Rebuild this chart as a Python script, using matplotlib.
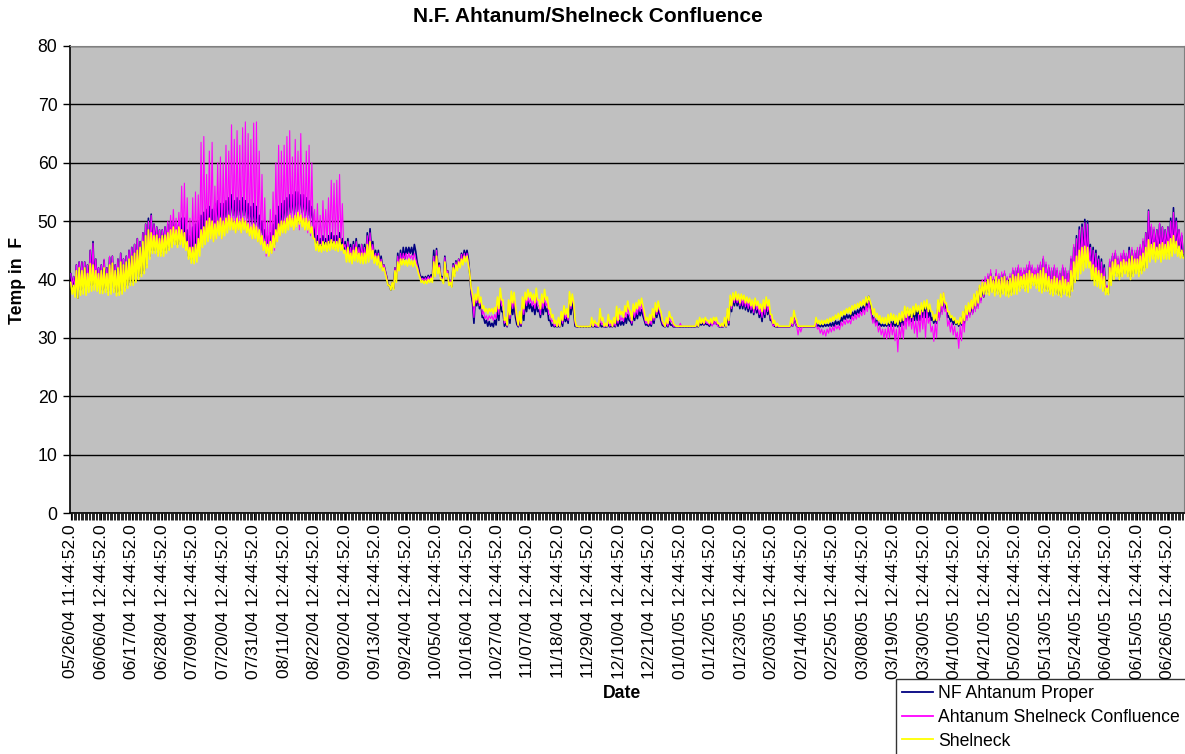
import matplotlib
matplotlib.use('Agg')  # headless
import matplotlib.pyplot as plt
from matplotlib.lines import Line2D
import numpy as np

plt.rcParams['font.family'] = ['Liberation Sans', 'DejaVu Sans']

# --- data: daily low / daily high (deg F), one row per 11-day label step ---
nf_lo = [
    38.5, 38.0, 36.8, 38.2, 38.5, 38.2, 38.8, 39.0, 39.2, 39.0, 38.5,
    38.2, 38.5, 38.0, 38.2, 38.5, 37.8, 38.0, 38.2, 38.6, 39.0, 39.5,
    39.5, 40.0, 40.5, 41.0, 41.5, 42.5, 44.0, 45.0, 45.0, 44.5, 44.5,
    45.0, 45.0, 45.5, 46.0, 46.5, 46.0, 46.5, 46.0, 45.5, 44.0, 43.5,
    44.0, 44.5, 45.5, 47.5, 48.0, 49.0, 49.5, 49.0, 49.5, 50.0, 49.5,
    50.0, 50.5, 51.0, 51.0, 50.5, 51.0, 50.5, 51.0, 50.5, 50.0, 49.5,
    49.5, 49.0, 48.0, 47.0, 45.5, 44.5, 45.0, 46.0, 47.5, 49.0, 49.5,
    50.5, 51.0, 51.5, 51.0, 51.5, 52.0, 51.5, 51.0, 51.0, 50.5, 49.5,
    46.0, 45.5, 45.5, 46.0, 45.5, 46.0, 46.0, 45.5, 45.5, 46.0, 45.0,
    44.0, 44.0, 43.5, 44.0, 44.0, 43.5, 43.5, 43.5, 44.5, 45.0, 43.5,
    43.0, 42.5, 42.0, 41.5, 39.0, 38.2, 38.5, 40.0, 42.0, 43.0, 43.5,
    44.5, 44.5, 44.2, 44.8, 42.0, 40.3, 40.0, 40.0, 40.2, 40.3, 41.5,
    42.0, 40.5, 39.5, 41.5, 39.3, 38.8, 41.0, 42.0, 42.5, 43.3, 44.0,
    43.5, 37.5, 32.5, 35.5, 35.0, 33.5, 32.5, 32.0, 32.0, 31.9, 32.2,
    33.0, 34.5, 32.0, 31.9, 32.5, 34.0, 33.5, 31.9, 32.0, 33.0, 34.5,
    35.0, 34.5, 34.0, 34.5, 33.5, 34.0, 34.5, 33.0, 32.0, 31.9, 31.9,
    31.9, 32.0, 32.8, 32.5, 34.0, 34.5, 31.9, 31.9, 31.9, 31.9, 31.9,
    31.9, 31.9, 31.9, 31.9, 31.9, 31.9, 31.9, 31.9, 31.9, 31.9, 32.0,
    32.2, 32.2, 32.5, 33.0, 32.2, 33.0, 33.3, 33.8, 33.8, 32.2, 32.0,
    32.0, 32.5, 33.5, 34.0, 32.2, 31.9, 31.9, 32.2, 31.9, 31.9, 31.9,
    31.9, 31.9, 31.9, 31.9, 31.9, 31.9, 31.9, 32.2, 32.2, 32.3, 32.0,
    32.2, 32.5, 32.2, 31.9, 31.9, 31.9, 32.2, 34.5, 35.5, 35.5, 35.0,
    35.0, 34.8, 34.5, 34.3, 34.0, 34.3, 33.5, 32.8, 33.5, 34.0, 33.0,
    32.2, 31.9, 31.9, 31.9, 31.9, 31.9, 31.9, 32.0, 32.5, 31.9, 31.9,
    31.9, 31.9, 31.9, 31.9, 31.9, 32.0, 31.9, 31.9, 32.0, 32.0, 32.0,
    32.0, 32.3, 32.2, 32.9, 33.2, 33.4, 33.3, 33.8, 34.0, 34.2, 34.5,
    34.8, 35.2, 35.5, 33.0, 32.5, 32.2, 32.0, 32.0, 32.0, 32.0, 32.0,
    32.0, 31.9, 32.0, 32.2, 32.8, 33.0, 32.8, 33.0, 33.0, 33.0, 33.5,
    33.5, 33.5, 33.0, 32.5, 32.5, 33.5, 34.5, 35.0, 33.5, 32.8, 32.3,
    32.3, 32.0, 32.2, 32.5, 33.5, 34.0, 34.3, 35.0, 35.5, 36.5, 37.0,
    37.8, 37.8, 38.3, 37.8, 38.0, 37.5, 37.8, 37.8, 37.5, 37.8, 38.3,
    38.0, 38.5, 39.0, 38.5, 38.3, 39.0, 39.5, 39.0, 38.5, 38.2, 38.5,
    38.3, 37.8, 37.5, 37.8, 37.5, 37.3, 37.8, 37.5, 37.3, 38.3, 39.8,
    41.5, 42.5, 43.0, 43.5, 43.5, 41.5, 40.5, 40.0, 39.5, 39.0, 38.0,
    37.6, 39.5, 40.5, 41.0, 40.5, 41.0, 41.5, 41.0, 40.5, 41.0, 41.5,
    41.0, 41.5, 42.0, 43.0, 44.0, 44.5, 44.0, 44.5, 44.0, 44.5, 44.5,
    44.5, 45.0, 45.5, 45.0, 44.5, 44.0,
]
nf_hi = [
    41.0, 40.5, 42.5, 43.0, 43.0, 43.0, 42.5, 45.0, 46.5, 43.5, 42.0,
    42.5, 43.3, 42.0, 43.8, 44.0, 42.5, 43.5, 44.5, 43.5, 44.0, 45.0,
    45.5, 46.0, 47.0, 46.5, 48.0, 49.5, 50.5, 51.2, 49.5, 49.0, 48.5,
    48.5, 49.0, 49.5, 50.0, 50.0, 49.5, 50.0, 50.5, 50.5, 48.5, 47.5,
    49.0, 49.5, 50.0, 51.0, 51.5, 52.0, 52.5, 52.0, 53.0, 53.5, 53.0,
    53.0, 53.5, 54.0, 54.5, 53.5, 54.0, 53.5, 54.0, 53.5, 53.0, 52.5,
    53.0, 52.5, 51.0, 50.0, 48.5, 47.5, 48.0, 49.5, 51.0, 52.5, 53.0,
    53.5, 54.0, 54.5, 54.5, 55.0, 55.0, 54.5, 54.5, 54.0, 53.5, 52.5,
    48.0, 47.5, 47.0, 47.5, 47.0, 47.5, 48.0, 47.5, 47.5, 48.0, 47.0,
    46.5, 47.0, 46.0, 46.5, 47.0, 46.0, 46.0, 46.0, 48.0, 48.7, 46.5,
    45.0, 45.0, 44.0, 42.5, 40.5, 39.0, 39.5, 42.0, 44.5, 45.0, 45.5,
    45.5, 45.5, 45.5, 46.0, 43.0, 40.8, 40.5, 40.5, 40.7, 40.8, 45.0,
    45.3, 42.8, 40.5, 44.0, 41.5, 39.8, 42.7, 43.2, 43.5, 44.5, 45.0,
    45.0, 41.0, 36.0, 36.8, 37.0, 36.0, 33.5, 33.0, 32.8, 32.5, 33.0,
    35.0, 36.5, 34.5, 32.5, 34.5, 36.0, 35.9, 32.3, 32.8, 35.0, 36.2,
    36.3, 35.8, 35.5, 36.0, 34.8, 35.5, 36.0, 35.0, 33.0, 32.3, 32.0,
    32.0, 33.0, 34.0, 33.5, 36.5, 36.0, 32.0, 31.9, 31.9, 31.9, 31.9,
    31.9, 32.0, 32.0, 31.9, 32.5, 32.0, 31.9, 32.3, 32.0, 32.2, 33.0,
    33.0, 32.8, 33.5, 34.0, 32.8, 34.0, 34.3, 34.8, 34.8, 33.0, 32.3,
    32.5, 33.5, 34.8, 34.8, 33.0, 32.0, 32.2, 32.8, 32.2, 31.9, 31.9,
    31.9, 31.9, 31.9, 31.9, 31.9, 31.9, 32.0, 32.5, 32.5, 32.5, 32.3,
    32.5, 32.8, 32.5, 31.9, 31.9, 32.5, 34.0, 36.5, 36.8, 37.0, 36.5,
    36.5, 36.5, 36.0, 36.0, 35.5, 36.0, 35.0, 34.5, 35.5, 36.0, 35.0,
    33.0, 32.0, 31.9, 31.9, 31.9, 31.9, 31.9, 32.3, 33.5, 32.0, 31.9,
    31.9, 31.9, 31.9, 31.9, 31.9, 32.5, 32.2, 32.2, 32.3, 32.3, 32.5,
    32.6, 32.9, 32.8, 33.5, 33.8, 34.0, 33.9, 34.4, 34.6, 34.8, 35.2,
    35.5, 36.5, 37.1, 34.5, 33.5, 33.0, 32.5, 32.3, 32.3, 32.5, 32.8,
    32.8, 32.5, 33.0, 33.5, 34.5, 34.8, 34.5, 34.8, 35.0, 34.8, 35.3,
    35.5, 35.5, 34.8, 33.5, 33.3, 35.5, 36.5, 37.0, 35.5, 33.8, 33.3,
    33.0, 32.8, 33.0, 34.0, 35.0, 35.0, 35.5, 36.5, 37.5, 38.5, 39.0,
    40.0, 40.5, 41.0, 40.0, 41.0, 40.5, 40.8, 41.0, 40.2, 40.5, 41.5,
    41.5, 42.0, 41.5, 41.5, 42.0, 42.5, 42.0, 41.5, 42.0, 42.5, 43.5,
    42.5, 42.0, 41.5, 42.0, 41.5, 41.0, 42.0, 41.5, 41.0, 43.5, 45.5,
    47.5, 49.0, 49.5, 50.3, 50.0, 46.0, 45.5, 45.0, 44.0, 43.5, 42.5,
    38.8, 43.0, 44.0, 44.5, 43.5, 44.0, 44.5, 44.0, 45.5, 45.0, 44.5,
    45.0, 45.5, 46.5, 48.0, 51.9, 49.0, 48.5, 48.5, 49.5, 49.0, 48.5,
    49.0, 50.5, 52.3, 50.5, 48.5, 47.5,
]
conf_lo = [
    39.0, 38.5, 38.5, 38.8, 39.0, 38.8, 39.2, 39.5, 39.8, 39.5, 39.0,
    38.6, 38.8, 38.3, 38.5, 38.8, 38.2, 38.3, 38.5, 39.0, 39.5, 40.0,
    40.0, 40.5, 41.0, 41.5, 42.0, 43.0, 44.5, 45.5, 45.5, 45.0, 45.0,
    45.0, 45.5, 46.0, 46.5, 47.0, 46.5, 47.0, 46.5, 46.0, 44.5, 44.0,
    44.0, 44.5, 45.0, 46.0, 46.5, 47.0, 47.0, 46.5, 47.0, 47.5, 47.0,
    48.0, 48.5, 49.0, 48.5, 48.0, 48.5, 48.0, 48.5, 48.0, 47.5, 47.0,
    47.0, 46.5, 46.0, 45.0, 44.0, 44.0, 44.5, 45.0, 46.5, 47.5, 48.0,
    48.5, 49.0, 49.0, 48.5, 49.0, 48.5, 49.0, 48.5, 48.0, 47.5, 47.0,
    46.5, 46.0, 46.0, 46.5, 46.0, 46.5, 46.5, 46.0, 46.0, 46.5, 45.5,
    44.0, 44.0, 43.5, 44.0, 44.0, 43.5, 43.5, 43.5, 44.0, 44.5, 43.5,
    43.0, 42.5, 42.0, 41.5, 39.0, 38.3, 38.5, 40.0, 42.0, 43.0, 43.5,
    43.5, 43.6, 43.3, 43.5, 41.5, 40.0, 39.8, 39.8, 40.0, 40.0, 41.0,
    41.5, 40.3, 39.5, 41.0, 39.2, 38.8, 41.0, 42.0, 42.5, 43.0, 43.5,
    43.0, 38.0, 33.5, 36.0, 35.5, 34.0, 33.3, 33.0, 33.3, 33.0, 33.3,
    34.0, 35.5, 32.5, 32.0, 33.3, 35.0, 34.5, 32.0, 32.2, 34.0, 35.5,
    36.0, 35.5, 35.0, 35.5, 34.0, 35.0, 35.5, 34.0, 32.8, 32.0, 31.9,
    31.9, 32.5, 33.3, 33.0, 35.0, 35.5, 31.9, 31.9, 31.9, 31.9, 31.9,
    31.9, 31.9, 32.0, 31.9, 32.3, 31.9, 31.9, 32.0, 31.9, 32.0, 32.5,
    33.0, 32.8, 33.5, 34.0, 32.5, 33.5, 34.0, 34.5, 34.5, 32.5, 32.2,
    32.3, 33.0, 34.0, 34.5, 32.5, 31.9, 32.0, 32.8, 32.0, 31.9, 31.9,
    31.9, 31.9, 31.9, 31.9, 31.9, 31.9, 32.0, 32.5, 32.3, 32.5, 32.2,
    32.0, 32.3, 32.0, 31.9, 31.9, 31.9, 32.5, 35.0, 36.0, 36.0, 35.5,
    35.5, 35.3, 35.0, 34.8, 34.3, 34.8, 34.0, 33.5, 34.0, 34.5, 33.5,
    32.0, 31.9, 31.9, 31.9, 31.9, 31.9, 31.9, 32.0, 32.5, 30.5, 31.0,
    31.9, 31.9, 31.9, 31.9, 31.9, 31.5, 30.8, 30.5, 30.3, 30.8, 31.0,
    31.2, 31.5, 31.4, 32.0, 32.3, 32.5, 32.4, 33.0, 33.2, 33.5, 33.8,
    34.0, 34.5, 35.0, 32.5, 32.0, 31.0, 30.5, 30.0, 29.8, 30.0, 30.5,
    29.5, 27.6, 30.0, 29.8, 31.5, 32.0, 31.5, 30.8, 30.0, 31.0, 31.5,
    30.0, 32.5, 31.0, 29.4, 30.0, 33.0, 34.0, 34.5, 32.0, 31.0, 30.5,
    30.0, 28.2, 29.5, 31.0, 33.0, 33.5, 34.0, 34.5, 35.0, 36.0, 37.0,
    38.0, 38.0, 38.5, 38.0, 38.3, 37.8, 38.0, 38.0, 37.8, 38.0, 38.5,
    38.5, 39.0, 39.5, 39.0, 38.8, 39.5, 40.0, 39.5, 39.0, 38.7, 39.0,
    38.5, 38.0, 37.8, 38.0, 37.8, 37.5, 38.0, 37.8, 37.5, 38.5, 40.0,
    41.0, 42.0, 42.5, 43.0, 43.0, 41.0, 40.0, 39.5, 39.0, 38.5, 37.8,
    37.8, 40.0, 41.0, 41.5, 41.0, 41.5, 42.0, 41.5, 41.0, 41.5, 42.0,
    41.5, 42.0, 42.5, 43.5, 44.5, 45.0, 44.5, 45.0, 44.5, 45.0, 45.0,
    45.0, 45.5, 46.0, 45.5, 45.0, 44.5,
]
conf_hi = [
    41.0, 40.5, 42.5, 43.0, 43.0, 43.0, 42.5, 45.0, 46.2, 43.5, 42.0,
    42.5, 43.5, 42.0, 44.0, 44.0, 42.5, 43.5, 44.5, 43.5, 44.0, 45.0,
    45.5, 46.0, 47.0, 46.5, 48.0, 49.5, 50.0, 51.0, 49.5, 49.0, 48.5,
    48.5, 49.0, 50.0, 51.0, 52.0, 50.5, 51.5, 56.0, 56.5, 54.0, 50.5,
    54.0, 55.0, 54.5, 63.5, 64.5, 58.0, 62.0, 63.5, 56.0, 60.0, 61.0,
    60.0, 63.0, 62.0, 66.5, 64.0, 65.5, 63.0, 66.0, 67.0, 65.0, 64.0,
    66.8, 67.0, 62.0, 58.0, 54.0, 50.0, 52.0, 55.0, 60.0, 63.0, 62.0,
    63.0, 64.5, 65.5, 61.0, 64.0, 62.0, 65.0, 60.0, 62.0, 63.0, 60.0,
    52.0, 53.0, 51.0, 53.5, 52.0, 54.0, 57.0, 56.5, 57.0, 58.0, 53.0,
    46.0, 46.5, 45.5, 46.0, 46.5, 45.5, 46.0, 45.5, 47.5, 48.0, 46.0,
    44.5, 44.5, 43.5, 42.5, 40.5, 39.0, 39.5, 42.0, 44.0, 44.5, 44.5,
    44.5, 44.5, 44.2, 44.5, 42.5, 40.5, 40.2, 40.3, 40.5, 40.5, 44.0,
    45.0, 42.5, 40.3, 43.8, 41.5, 39.8, 42.5, 43.0, 43.5, 44.3, 44.5,
    44.5, 41.0, 36.5, 37.0, 37.5, 36.5, 34.5, 33.8, 33.8, 33.8, 34.0,
    36.0, 37.5, 35.5, 33.0, 35.5, 37.0, 36.8, 33.0, 33.5, 36.0, 37.0,
    37.0, 36.7, 36.3, 37.0, 35.5, 36.5, 37.0, 36.0, 34.0, 33.0, 32.3,
    32.5, 33.8, 34.8, 34.0, 37.2, 36.8, 32.5, 32.0, 32.0, 32.0, 32.0,
    32.0, 32.5, 32.5, 32.0, 34.0, 32.5, 32.0, 33.0, 32.5, 32.8, 34.0,
    34.0, 33.5, 34.5, 35.3, 33.5, 34.8, 35.0, 35.5, 35.8, 33.5, 32.8,
    33.0, 34.0, 35.3, 35.5, 33.8, 32.2, 32.8, 33.5, 32.8, 32.0, 31.9,
    32.5, 32.0, 32.0, 32.0, 32.0, 32.0, 32.3, 33.0, 32.8, 33.0, 32.5,
    32.8, 33.0, 32.8, 32.0, 32.0, 33.0, 34.5, 36.8, 37.0, 37.3, 37.0,
    36.8, 36.8, 36.5, 36.3, 36.0, 36.3, 35.5, 35.0, 35.8, 36.3, 35.5,
    33.0, 32.3, 32.0, 31.9, 31.9, 31.9, 31.9, 32.5, 33.5, 32.0, 31.9,
    31.9, 31.9, 31.9, 31.9, 31.9, 32.5, 31.8, 31.5, 31.3, 31.5, 31.8,
    31.9, 32.2, 32.1, 32.7, 33.0, 33.2, 33.1, 33.7, 34.0, 34.2, 34.5,
    35.0, 35.5, 36.2, 33.8, 33.5, 32.8, 32.0, 31.5, 31.5, 32.0, 32.5,
    32.0, 31.5, 32.0, 32.5, 34.0, 34.2, 33.5, 33.5, 33.0, 34.0, 34.5,
    34.5, 34.8, 33.5, 32.0, 32.5, 35.5, 37.0, 37.8, 35.0, 33.0, 32.5,
    32.0, 31.0, 32.0, 33.5, 35.0, 35.5, 36.5, 37.0, 38.0, 39.0, 40.0,
    40.5, 41.0, 41.7, 40.5, 41.7, 41.0, 41.3, 41.5, 40.5, 41.0, 42.0,
    42.0, 42.5, 42.0, 42.0, 42.5, 43.1, 42.5, 42.0, 42.5, 43.0, 44.0,
    43.0, 42.5, 42.0, 42.5, 42.0, 41.5, 42.5, 42.0, 41.5, 44.0, 46.0,
    47.0, 48.5, 49.0, 49.7, 49.5, 45.5, 45.0, 44.5, 43.5, 43.0, 42.0,
    39.0, 43.5, 44.5, 45.0, 44.0, 44.5, 45.0, 44.5, 45.0, 45.5, 45.0,
    45.5, 46.0, 47.0, 48.0, 51.7, 49.5, 49.0, 48.5, 49.7, 49.0, 48.5,
    49.0, 50.0, 51.5, 50.0, 48.6, 48.0,
]
shel_lo = [
    37.5, 37.0, 36.8, 37.3, 37.5, 37.3, 37.8, 38.0, 38.2, 38.0, 37.6,
    37.6, 37.8, 37.3, 37.5, 37.8, 37.2, 37.3, 37.5, 38.0, 38.5, 39.0,
    39.0, 39.5, 40.0, 40.5, 41.0, 42.0, 43.5, 44.5, 44.5, 44.0, 44.0,
    44.0, 44.5, 45.0, 45.5, 46.0, 45.5, 46.0, 45.5, 45.0, 43.5, 42.8,
    42.7, 43.0, 44.0, 45.5, 46.0, 46.5, 47.0, 46.5, 47.0, 47.5, 47.0,
    47.5, 48.0, 48.5, 48.5, 48.0, 48.5, 48.0, 48.5, 48.0, 47.5, 47.0,
    47.0, 46.5, 46.0, 45.0, 44.5, 44.0, 44.5, 45.5, 46.5, 47.5, 48.0,
    48.0, 48.5, 49.0, 48.5, 49.0, 49.5, 49.0, 48.5, 48.5, 48.0, 47.0,
    45.0, 44.8, 44.7, 45.0, 44.8, 45.0, 45.2, 45.0, 44.8, 45.0, 44.5,
    43.0, 43.0, 42.7, 43.2, 43.0, 42.8, 42.7, 42.8, 43.0, 43.5, 42.8,
    42.5, 42.0, 41.5, 41.0, 39.0, 38.2, 38.3, 39.5, 41.5, 42.5, 42.5,
    42.3, 42.5, 42.2, 42.5, 41.0, 39.5, 39.3, 39.3, 39.5, 39.5, 40.5,
    41.0, 40.0, 39.3, 40.5, 39.0, 38.7, 40.5, 41.5, 42.0, 42.5, 43.0,
    42.5, 38.5, 35.5, 36.5, 36.0, 35.0, 34.5, 34.2, 34.5, 34.2, 34.5,
    35.0, 36.5, 33.0, 32.2, 34.0, 36.0, 35.5, 32.2, 32.5, 35.0, 36.5,
    37.0, 36.5, 36.0, 36.5, 35.0, 36.0, 36.5, 35.0, 33.5, 32.5, 32.0,
    32.0, 33.0, 34.0, 33.5, 35.5, 36.0, 32.0, 31.9, 31.9, 31.9, 31.9,
    31.9, 32.0, 32.5, 32.0, 33.0, 32.0, 32.0, 32.5, 32.0, 32.5, 33.0,
    34.0, 33.5, 34.5, 35.0, 33.0, 34.5, 35.0, 35.5, 35.5, 33.0, 32.5,
    33.0, 33.5, 34.5, 35.0, 33.0, 32.0, 32.5, 33.5, 32.5, 32.0, 32.0,
    32.0, 32.0, 32.0, 32.0, 32.0, 32.0, 32.0, 32.5, 32.5, 33.0, 32.5,
    32.5, 33.0, 32.5, 32.0, 32.0, 32.0, 33.0, 35.5, 36.5, 36.5, 36.0,
    36.5, 36.0, 36.0, 35.5, 35.0, 35.5, 35.0, 34.5, 35.0, 35.5, 34.0,
    32.5, 32.0, 32.0, 32.0, 32.0, 32.0, 32.0, 32.5, 33.5, 32.0, 32.0,
    32.0, 32.0, 32.0, 32.0, 32.0, 32.5, 32.3, 32.3, 32.5, 32.5, 32.8,
    33.0, 33.3, 33.2, 33.8, 34.0, 34.3, 34.1, 34.8, 35.0, 35.2, 35.5,
    35.5, 36.0, 36.3, 34.0, 33.5, 33.0, 32.5, 32.5, 32.3, 32.5, 33.0,
    32.5, 32.3, 32.8, 33.0, 33.5, 33.8, 33.5, 34.0, 34.5, 34.0, 34.5,
    35.0, 34.5, 34.5, 33.0, 33.0, 34.5, 35.5, 36.0, 34.5, 33.5, 33.0,
    32.5, 32.3, 32.5, 33.0, 34.0, 34.5, 35.0, 35.5, 36.0, 37.0, 37.5,
    37.5, 37.3, 37.8, 37.2, 37.5, 37.0, 37.5, 37.2, 37.0, 37.3, 37.5,
    37.5, 38.0, 38.5, 38.0, 37.8, 38.5, 39.0, 38.5, 38.0, 37.7, 38.0,
    38.0, 37.5, 37.2, 37.5, 37.3, 37.0, 37.5, 37.2, 37.0, 38.0, 39.5,
    40.0, 41.0, 41.5, 42.0, 42.0, 40.0, 39.0, 38.8, 38.5, 38.0, 37.4,
    37.4, 39.0, 40.0, 40.5, 40.0, 40.5, 41.0, 40.5, 40.0, 40.5, 41.0,
    40.5, 41.0, 41.5, 42.0, 43.0, 43.5, 43.0, 43.5, 43.0, 43.5, 43.5,
    43.5, 44.0, 44.5, 44.0, 43.7, 43.7,
]
shel_hi = [
    39.5, 39.0, 41.5, 42.0, 41.5, 42.0, 41.0, 42.7, 42.5, 41.5, 41.0,
    41.5, 42.0, 41.0, 42.5, 42.8, 41.5, 42.0, 43.0, 42.5, 43.0, 43.5,
    44.0, 44.5, 45.0, 45.5, 46.5, 47.5, 48.5, 48.0, 47.5, 47.6, 47.0,
    47.5, 47.6, 48.0, 48.5, 49.0, 48.5, 49.0, 48.5, 48.0, 46.5, 45.5,
    45.5, 46.0, 47.0, 48.5, 49.0, 50.0, 50.5, 50.0, 49.5, 50.0, 50.5,
    50.0, 50.5, 51.0, 50.5, 50.0, 50.5, 50.0, 50.5, 50.0, 49.5, 49.0,
    49.5, 49.0, 48.5, 47.5, 46.5, 46.0, 46.5, 47.5, 48.5, 49.5, 50.0,
    50.0, 50.5, 51.0, 50.5, 51.0, 51.5, 51.0, 50.5, 50.5, 50.0, 49.0,
    47.0, 46.5, 46.0, 46.5, 46.3, 46.5, 46.8, 46.5, 46.5, 47.0, 46.0,
    45.0, 45.5, 44.5, 45.0, 45.5, 44.5, 44.5, 44.5, 46.0, 46.5, 45.0,
    44.0, 44.0, 43.0, 42.0, 40.0, 39.0, 39.5, 41.5, 43.0, 43.5, 43.5,
    43.3, 43.5, 43.2, 43.3, 42.0, 40.3, 39.8, 39.8, 40.0, 40.2, 43.0,
    44.0, 42.0, 40.0, 43.0, 41.0, 39.5, 42.0, 42.5, 43.0, 43.5, 44.0,
    44.0, 41.0, 37.5, 37.5, 38.7, 37.0, 35.5, 35.0, 35.0, 35.0, 35.2,
    37.0, 38.5, 36.5, 33.5, 36.5, 38.0, 37.8, 33.5, 34.5, 37.0, 37.8,
    38.3, 37.8, 37.5, 38.5, 36.5, 37.5, 38.3, 37.0, 35.0, 34.0, 33.0,
    33.5, 34.5, 35.5, 35.0, 37.9, 37.5, 33.0, 32.0, 32.0, 32.0, 32.0,
    32.0, 33.5, 33.0, 32.5, 35.0, 33.5, 32.5, 34.0, 33.0, 33.5, 35.4,
    35.0, 34.5, 35.5, 36.3, 34.5, 35.8, 36.0, 36.5, 36.8, 34.5, 33.5,
    34.0, 35.0, 36.0, 36.3, 34.5, 32.5, 33.5, 34.5, 33.5, 32.2, 32.0,
    32.0, 32.0, 32.0, 32.0, 32.0, 32.0, 33.0, 33.5, 33.3, 33.5, 33.0,
    33.3, 33.5, 33.5, 32.5, 32.5, 33.5, 35.0, 37.3, 37.7, 37.9, 37.5,
    37.5, 37.3, 37.0, 36.8, 36.5, 36.8, 36.3, 35.8, 36.5, 37.0, 36.5,
    34.0, 33.0, 32.5, 32.0, 32.0, 32.0, 32.0, 33.5, 34.7, 33.0, 32.0,
    32.0, 32.0, 32.0, 32.0, 32.0, 33.5, 33.0, 33.0, 33.0, 33.2, 33.4,
    33.6, 33.9, 34.2, 34.5, 34.7, 35.0, 35.2, 35.5, 35.7, 35.9, 36.2,
    36.5, 37.0, 37.1, 35.5, 35.0, 34.2, 33.8, 33.5, 33.5, 34.0, 34.2,
    34.0, 33.8, 34.2, 34.5, 35.4, 35.2, 35.0, 35.4, 35.8, 35.5, 36.0,
    36.3, 36.5, 35.8, 34.5, 34.0, 36.5, 37.5, 37.7, 36.0, 34.5, 33.8,
    33.5, 33.0, 33.5, 34.5, 35.5, 36.0, 36.5, 37.5, 38.0, 39.0, 39.5,
    39.5, 40.0, 40.5, 39.8, 40.5, 40.0, 40.3, 40.5, 39.8, 40.2, 40.8,
    40.5, 41.0, 40.5, 40.8, 41.0, 41.5, 41.0, 40.8, 41.0, 41.5, 42.0,
    41.0, 40.5, 40.0, 40.5, 40.2, 39.8, 40.5, 40.0, 39.5, 41.5, 43.0,
    44.0, 45.0, 45.5, 45.7, 45.5, 43.0, 42.5, 42.0, 41.5, 41.0, 40.5,
    38.5, 42.0, 43.0, 43.4, 42.5, 43.0, 43.4, 43.0, 43.5, 44.0, 43.5,
    43.5, 44.0, 44.5, 45.5, 46.8, 46.0, 46.3, 45.5, 46.0, 46.3, 46.0,
    46.5, 47.0, 47.5, 46.5, 45.7, 45.0,
]

tick_labels = [
    '05/26/04 11:44:52.0', '06/06/04 12:44:52.0', '06/17/04 12:44:52.0',
    '06/28/04 12:44:52.0', '07/09/04 12:44:52.0', '07/20/04 12:44:52.0',
    '07/31/04 12:44:52.0', '08/11/04 12:44:52.0', '08/22/04 12:44:52.0',
    '09/02/04 12:44:52.0', '09/13/04 12:44:52.0', '09/24/04 12:44:52.0',
    '10/05/04 12:44:52.0', '10/16/04 12:44:52.0', '10/27/04 12:44:52.0',
    '11/07/04 12:44:52.0', '11/18/04 12:44:52.0', '11/29/04 12:44:52.0',
    '12/10/04 12:44:52.0', '12/21/04 12:44:52.0', '01/01/05 12:44:52.0',
    '01/12/05 12:44:52.0', '01/23/05 12:44:52.0', '02/03/05 12:44:52.0',
    '02/14/05 12:44:52.0', '02/25/05 12:44:52.0', '03/08/05 12:44:52.0',
    '03/19/05 12:44:52.0', '03/30/05 12:44:52.0', '04/10/05 12:44:52.0',
    '04/21/05 12:44:52.0', '05/02/05 12:44:52.0', '05/13/05 12:44:52.0',
    '05/24/05 12:44:52.0', '06/04/05 12:44:52.0', '06/15/05 12:44:52.0',
    '06/26/05 12:44:52.0',
]
tick_step = 11  # days between labels

# name, lows, highs, colour, line width
series = [
    ('NF Ahtanum Proper', nf_lo, nf_hi, '#000080', 1.2),
    ('Ahtanum Shelneck Confluence', conf_lo, conf_hi, '#FF00FF', 0.8),
    ('Shelneck', shel_lo, shel_hi, '#FFFF00', 1.2),
]


def daily_trace(lo, hi):
    # afternoon high then night low for each day
    n = len(lo)
    days = np.arange(n)
    x = np.empty(2 * n)
    y = np.empty(2 * n)
    x[0::2] = days
    x[1::2] = days + 0.5
    y[0::2] = hi
    y[1::2] = lo
    return x, y


fig = plt.figure(figsize=(11.85, 7.54), dpi=100)
ax = fig.add_axes([70 / 1185, 1 - 513 / 754, 1114 / 1185, 467 / 754])
ax.set_facecolor('#C0C0C0')

handles = []
for i, (name, lo, hi, col, lw) in enumerate(series):
    x, y = daily_trace(lo, hi)
    ax.plot(x, y, color=col, lw=lw, zorder=3 + i)
    handles.append(Line2D([], [], color=col, lw=1.3))

ax.set_ylim(0, 80)
ax.set_yticks(range(0, 81, 10))
ax.set_xlim(-0.3, len(nf_lo) - 0.2)
ax.set_xticks([i * tick_step for i in range(len(tick_labels))])
ax.set_xticklabels(tick_labels, rotation=90, fontsize=12.5, va='top')
ax.set_xticks(np.arange(0, len(nf_lo), 0.5), minor=True)
ax.tick_params(axis='x', which='major', length=5, width=0.8, pad=3)
ax.tick_params(axis='x', which='minor', length=5, width=0.6)
ax.tick_params(axis='y', length=5, width=1, pad=4, labelsize=12.7)

ax.grid(axis='y', color='black', lw=1.0, zorder=1)
ax.set_axisbelow(True)
for s in ('left', 'bottom'):
    ax.spines[s].set_color('black')
    ax.spines[s].set_linewidth(1.2)
ax.spines['top'].set_color('#808080')
ax.spines['right'].set_color('#808080')

fig.text(588 / 1185, 1 - 17 / 754, 'N.F. Ahtanum/Shelneck Confluence',
         ha='center', va='center', fontsize=15, fontweight='bold')
fig.text(18 / 1185, 1 - 280 / 754, 'Temp in  F', rotation=90,
         ha='center', va='center', fontsize=12.7, fontweight='bold')
fig.text(622 / 1185, 1 - 693 / 754, 'Date',
         ha='center', va='center', fontsize=12.7, fontweight='bold')

leg = fig.legend(handles, [s[0] for s in series], loc='upper left',
                 bbox_to_anchor=(896 / 1185, 1 - 679 / 754), borderaxespad=0,
                 fontsize=12.7, frameon=True, fancybox=False, edgecolor='black',
                 handlelength=1.75, handletextpad=0.3, borderpad=0.35,
                 labelspacing=0.38)
leg.get_frame().set_linewidth(1.0)

fig.savefig('out.png', dpi=100)
